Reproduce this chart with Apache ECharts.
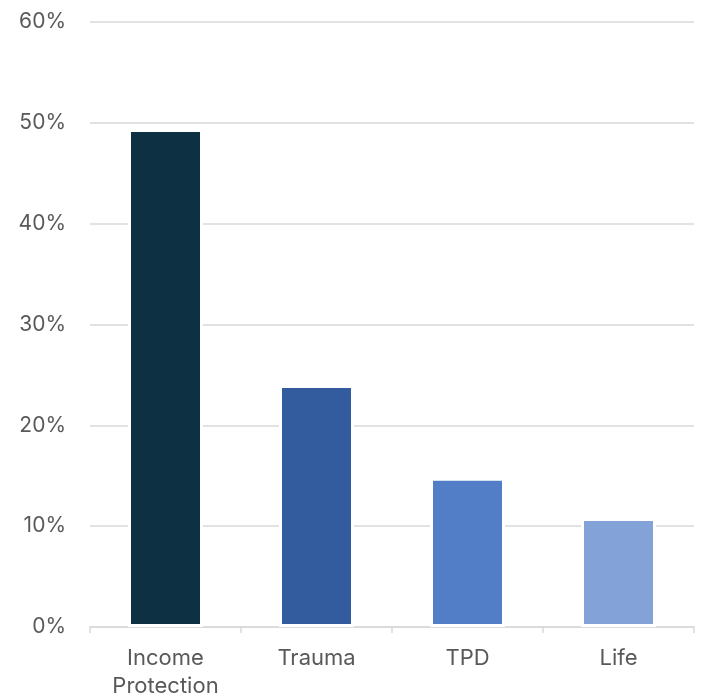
<!DOCTYPE html>
<html><head><meta charset="utf-8">
<script src="https://cdn.jsdelivr.net/npm/echarts@6/dist/echarts.min.js"></script>
<style>html,body{margin:0;padding:0;background:#fff}#c{width:702px;height:700px}</style>
</head><body><div id="c"></div>
<script>
const categories = ['Income\nProtection', 'Trauma', 'TPD', 'Life'];
const values = [49.4, 24.0, 14.8, 10.8];
const barColors = ['#0d3042', '#335c9e', '#527ec7', '#83a2d7'];
const yTicks = [0, 10, 20, 30, 40, 50, 60];

const chart = echarts.init(document.getElementById('c'), null, {renderer: 'canvas'});
chart.setOption({
  animation: false,
  backgroundColor: '#ffffff',
  grid: {left: 90, right: 8, top: 22, bottom: 69, containLabel: false},
  xAxis: {
    type: 'category',
    data: categories,
    axisLine: {show: true, lineStyle: {color: '#d9d9d9', width: 1.5}},
    axisTick: {show: true, length: 6, lineStyle: {color: '#d9d9d9', width: 1.5}},
    axisLabel: {color: '#595959', fontSize: 22, fontFamily: 'Inter', lineHeight: 28, margin: 17}
  },
  yAxis: {
    type: 'value',
    min: yTicks[0], max: yTicks[yTicks.length - 1], interval: 10,
    axisLine: {show: false},
    axisTick: {show: false},
    splitLine: {lineStyle: {color: '#d9d9d9', width: 1.5}},
    axisLabel: {color: '#595959', fontSize: 21, fontFamily: 'Inter', margin: 24, formatter: v => v + '%'}
  },
  series: [{
    type: 'bar',
    data: values.map((v, i) => ({value: v, itemStyle: {color: barColors[i]}})),
    barWidth: 75,
    itemStyle: {borderColor: '#ffffff', borderWidth: 3}
  }]
});
</script></body></html>
